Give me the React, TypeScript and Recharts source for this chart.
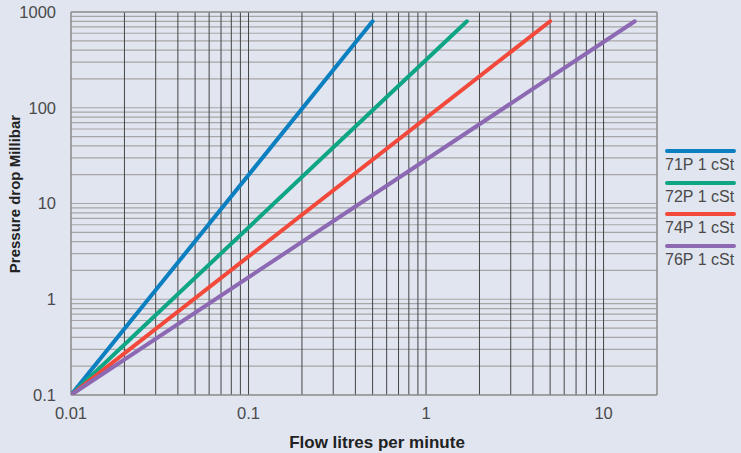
import React from "react";
import { Line, LineChart, ReferenceLine, XAxis, YAxis } from "recharts";

// flow (litres/min) vs pressure drop (mbar), straight lines on log-log
const SERIES = [
  { name: "71P 1 cSt", color: "#0b7fc0", end: 0.5 },
  { name: "72P 1 cSt", color: "#0ea585", end: 1.7 },
  { name: "74P 1 cSt", color: "#f2493b", end: 5 },
  { name: "76P 1 cSt", color: "#8c69b2", end: 15 },
];

const START_FLOW = 0.01;
const START_PRESSURE = 0.1;
const END_PRESSURE = 800;

const X_TICKS = [0.01, 0.1, 1, 10];
const Y_TICKS = [0.1, 1, 10, 100, 1000];

const X_GRID = [
  0.02, 0.03, 0.04, 0.05, 0.06, 0.07, 0.08, 0.09, 0.1,
  0.2, 0.3, 0.4, 0.5, 0.6, 0.7, 0.8, 0.9, 1,
  2, 3, 4, 5, 6, 7, 8, 9, 10,
];
const Y_GRID = [
  0.2, 0.3, 0.4, 0.5, 0.6, 0.7, 0.8, 0.9, 1,
  2, 3, 4, 5, 6, 7, 8, 9, 10,
  20, 30, 40, 50, 60, 70, 80, 90, 100,
  200, 300, 400, 500, 600, 700, 800, 900,
];

const FONT = "'Liberation Sans', Arial, sans-serif";
const TITLE_STYLE = { fill: "#222", fontWeight: 700, fontFamily: FONT };

function YTitle() {
  return (
    <text x={20} y={194} transform="rotate(-90 20 194)" textAnchor="middle" fontSize={15} style={TITLE_STYLE}>
      Pressure drop Millibar
    </text>
  );
}

function XTitle() {
  return (
    <text x={377} y={448} textAnchor="middle" fontSize={17} style={TITLE_STYLE}>
      Flow litres per minute
    </text>
  );
}

function ChartLegend() {
  return (
    <div style={{ position: "absolute", left: 665, top: 149, fontFamily: FONT }}>
      {SERIES.map((s) => (
        <div key={s.name} style={{ height: 31.7 }}>
          <div style={{ width: 71, height: 4, borderRadius: 2, background: s.color }} />
          <div style={{ fontSize: 16, color: "#4a4a4a", lineHeight: "20px", marginTop: 2 }}>{s.name}</div>
        </div>
      ))}
    </div>
  );
}

export default function App() {
  return (
    <div style={{ position: "absolute", left: 0, top: 0, width: 741, height: 453, background: "#e0e5f0" }}>
      <LineChart width={741} height={453} margin={{ top: 12, right: 84, bottom: 0, left: 0 }}>
        <XAxis
          dataKey="x"
          type="number"
          scale="log"
          domain={[0.01, 20]}
          ticks={X_TICKS}
          allowDataOverflow
          axisLine={false}
          tickLine={false}
          height={58}
          tickMargin={6}
          tick={{ fill: "#4a4a4a", fontSize: 16.5, fontFamily: FONT }}
          label={<XTitle />}
        />
        <YAxis
          type="number"
          scale="log"
          domain={[0.1, 1000]}
          ticks={Y_TICKS}
          allowDataOverflow
          axisLine={false}
          tickLine={false}
          width={71}
          tickMargin={9}
          tick={{ fill: "#4a4a4a", fontSize: 16.5, fontFamily: FONT }}
          label={<YTitle />}
        />
        {Y_GRID.map((v) => (
          <ReferenceLine key={"y" + v} y={v} stroke="#a6a6a6" strokeWidth={1.2} />
        ))}
        {X_GRID.map((v) => (
          <ReferenceLine key={"x" + v} x={v} stroke="#444" strokeWidth={1} />
        ))}
        <ReferenceLine x={0.01} stroke="#8a8a8a" strokeWidth={1.5} />
        <ReferenceLine x={20} stroke="#8a8a8a" strokeWidth={1.5} />
        <ReferenceLine y={0.1} stroke="#8a8a8a" strokeWidth={1.5} />
        <ReferenceLine y={1000} stroke="#8a8a8a" strokeWidth={1.5} />
        {SERIES.map((s) => (
          <Line
            key={s.name}
            data={[
              { x: START_FLOW, y: START_PRESSURE },
              { x: s.end, y: END_PRESSURE },
            ]}
            dataKey="y"
            type="linear"
            stroke={s.color}
            strokeWidth={4}
            strokeLinecap="round"
            dot={false}
            activeDot={false}
            isAnimationActive={false}
          />
        ))}
      </LineChart>
      <ChartLegend />
    </div>
  );
}
